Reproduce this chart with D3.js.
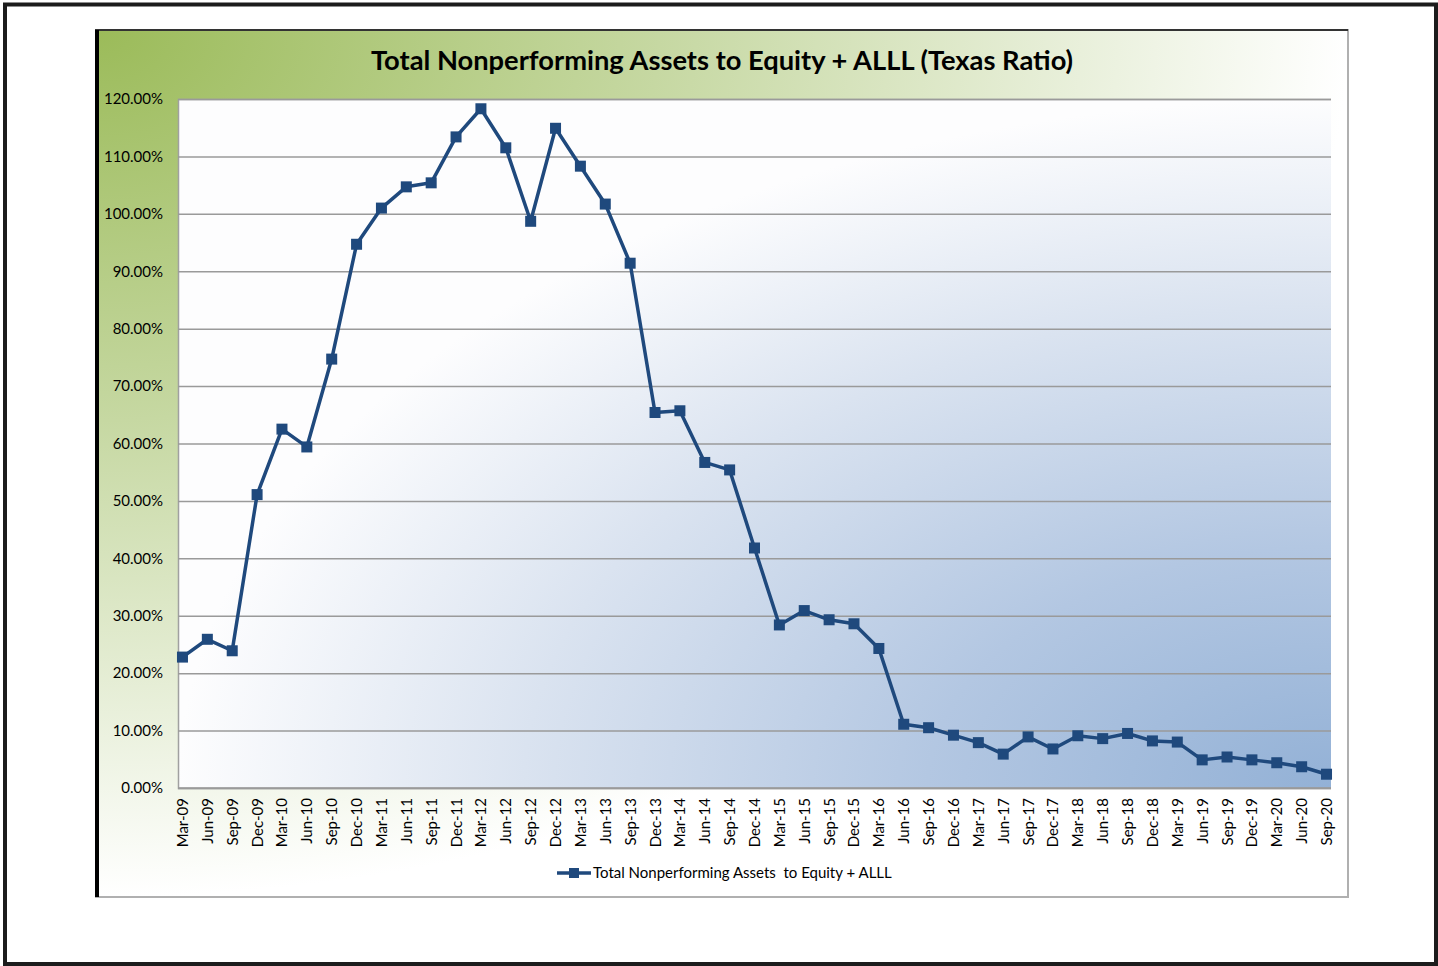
<!DOCTYPE html>
<html>
<head>
<meta charset="utf-8">
<script src="https://cdn.jsdelivr.net/npm/d3@7"></script>
<style>
  html, body { margin: 0; padding: 0; background: #fff; }
  text { font-family: Lato, "Open Sans", sans-serif; fill: #000; }
</style>
</head>
<body>
<div id="container"></div>
<script>
/* DATA */
const quarters = ["Mar-09","Jun-09","Sep-09","Dec-09","Mar-10","Jun-10","Sep-10","Dec-10",
  "Mar-11","Jun-11","Sep-11","Dec-11","Mar-12","Jun-12","Sep-12","Dec-12",
  "Mar-13","Jun-13","Sep-13","Dec-13","Mar-14","Jun-14","Sep-14","Dec-14",
  "Mar-15","Jun-15","Sep-15","Dec-15","Mar-16","Jun-16","Sep-16","Dec-16",
  "Mar-17","Jun-17","Sep-17","Dec-17","Mar-18","Jun-18","Sep-18","Dec-18",
  "Mar-19","Jun-19","Sep-19","Dec-19","Mar-20","Jun-20","Sep-20"];
const texasRatio = [22.8, 25.9, 23.9, 51.1, 62.5, 59.4, 74.7, 94.7,
  101.0, 104.7, 105.4, 113.4, 118.3, 111.5, 98.7, 114.9,
  108.3, 101.7, 91.4, 65.4, 65.7, 56.7, 55.4, 41.8,
  28.4, 30.9, 29.3, 28.6, 24.3, 11.1, 10.5, 9.2,
  7.9, 5.9, 8.9, 6.8, 9.1, 8.6, 9.5, 8.2,
  8.0, 4.9, 5.4, 4.9, 4.4, 3.7, 2.4];
const yTicks = [0, 10, 20, 30, 40, 50, 60, 70, 80, 90, 100, 110, 120];
const chartTitle = "Total Nonperforming Assets to Equity + ALLL (Texas Ratio)";
const seriesName = "Total Nonperforming Assets  to Equity + ALLL";

/* CONSTANTS */
const width = 1438, height = 966;
const chartBox = {left: 96, top: 30, right: 1348, bottom: 897};
const plot = {left: 178, top: 99, right: 1331, bottom: 788};
const lineColor = "#1f497d";

const svg = d3.select("#container").append("svg")
  .attr("width", width)
  .attr("height", height);

const defs = svg.append("defs");

// green glow from top-left of chart area
const g1 = defs.append("radialGradient").attr("id", "chartBg")
  .attr("cx", 0).attr("cy", 0).attr("r", 1).attr("fx", 0).attr("fy", 0);
g1.append("stop").attr("offset", "0").attr("stop-color", "#9bbb59");
g1.append("stop").attr("offset", "0.45").attr("stop-color", "#c6d8a2");
g1.append("stop").attr("offset", "1").attr("stop-color", "#ffffff");

// blue glow from bottom-right of plot area
const g2 = defs.append("radialGradient").attr("id", "plotBg")
  .attr("cx", 1).attr("cy", 1).attr("r", 1).attr("fx", 1).attr("fy", 1);
g2.append("stop").attr("offset", "0").attr("stop-color", "#93b1d6");
g2.append("stop").attr("offset", "0.35").attr("stop-color", "#b3c7e2");
g2.append("stop").attr("offset", "0.7").attr("stop-color", "#dae3f0");
g2.append("stop").attr("offset", "1").attr("stop-color", "#fdfdfe");

// outer frame
svg.append("rect")
  .attr("x", 5).attr("y", 4.5)
  .attr("width", 1431).attr("height", 959.5)
  .attr("fill", "#fff")
  .attr("stroke", "#1c1c1c")
  .attr("stroke-width", 4);

// chart area
svg.append("rect")
  .attr("x", chartBox.left).attr("y", chartBox.top)
  .attr("width", chartBox.right - chartBox.left)
  .attr("height", chartBox.bottom - chartBox.top)
  .attr("fill", "url(#chartBg)")
  .attr("stroke", "#b0b0b0")
  .attr("stroke-width", 2);
svg.append("line")
  .attr("x1", chartBox.left - 1).attr("x2", chartBox.right)
  .attr("y1", chartBox.top).attr("y2", chartBox.top)
  .attr("stroke", "#333").attr("stroke-width", 2);
svg.append("line")
  .attr("x1", chartBox.left + 1).attr("x2", chartBox.left + 1)
  .attr("y1", chartBox.top).attr("y2", chartBox.bottom)
  .attr("stroke", "#000").attr("stroke-width", 4);

// title
svg.append("text")
  .attr("x", 722).attr("y", 70)
  .attr("text-anchor", "middle")
  .attr("font-size", 27.3)
  .attr("font-weight", "bold")
  .text(chartTitle);

/* SCALES */
const xScale = d3.scalePoint()
  .domain(quarters)
  .range([plot.left, plot.right])
  .padding(0.18);

const yScale = d3.scaleLinear()
  .domain([0, 120])
  .range([plot.bottom, plot.top]);

// plot area background
svg.append("rect")
  .attr("x", plot.left).attr("y", plot.top)
  .attr("width", plot.right - plot.left)
  .attr("height", plot.bottom - plot.top)
  .attr("fill", "url(#plotBg)");

// gridlines + y labels
const yAxis = d3.axisLeft(yScale)
  .tickValues(yTicks)
  .tickSize(-(plot.right - plot.left))
  .tickPadding(15)
  .tickFormat(d => d.toFixed(2) + "%");

svg.append("g")
  .attr("transform", `translate(${plot.left},0)`)
  .call(yAxis)
  .call(g => g.select(".domain").attr("stroke", "#a0a0a0").attr("stroke-width", 1.5))
  .call(g => g.selectAll(".tick line").attr("stroke", "#9a9a9a").attr("stroke-width", 1.5))
  .call(g => g.selectAll(".tick text")
    .attr("font-size", 15)
    .attr("font-family", "Lato, sans-serif")
    .attr("fill", "#000"));

// x axis
const xAxis = d3.axisBottom(xScale).tickSize(0).tickPadding(0);
svg.append("g")
  .attr("transform", `translate(0,${plot.bottom})`)
  .call(xAxis)
  .call(g => g.select(".domain").remove())
  .call(g => g.selectAll(".tick text")
    .attr("font-size", 15)
    .attr("font-family", "Lato, sans-serif")
    .attr("fill", "#000")
    .attr("text-anchor", "end")
    .attr("dy", null)
    .attr("y", 0)
    .attr("transform", "translate(5,10) rotate(-90)"));

svg.append("line")
  .attr("x1", plot.left).attr("x2", plot.right)
  .attr("y1", plot.bottom).attr("y2", plot.bottom)
  .attr("stroke", "#9a9a9a").attr("stroke-width", 1.5);

/* LINE + MARKERS */
const line = d3.line()
  .x((d, i) => xScale(quarters[i]))
  .y(d => yScale(d));

svg.append("path")
  .datum(texasRatio)
  .attr("d", line)
  .attr("fill", "none")
  .attr("stroke", lineColor)
  .attr("stroke-width", 3.5)
  .attr("stroke-linejoin", "round");

const ms = 11;
svg.selectAll("rect.marker")
  .data(texasRatio)
  .join("rect")
  .attr("class", "marker")
  .attr("x", (d, i) => xScale(quarters[i]) - ms / 2)
  .attr("y", d => yScale(d) - ms / 2)
  .attr("width", ms)
  .attr("height", ms)
  .attr("fill", lineColor);

/* LEGEND */
const legend = svg.append("g").attr("transform", "translate(557,873)");
legend.append("line")
  .attr("x1", 0).attr("x2", 34)
  .attr("y1", 0).attr("y2", 0)
  .attr("stroke", lineColor).attr("stroke-width", 3.5);
legend.append("rect")
  .attr("x", 17 - 5).attr("y", -5)
  .attr("width", 10).attr("height", 10)
  .attr("fill", lineColor);
legend.append("text")
  .attr("x", 36).attr("y", 5)
  .attr("font-size", 15)
  .attr("xml:space", "preserve")
  .style("white-space", "pre")
  .text(seriesName);
</script>
</body>
</html>
